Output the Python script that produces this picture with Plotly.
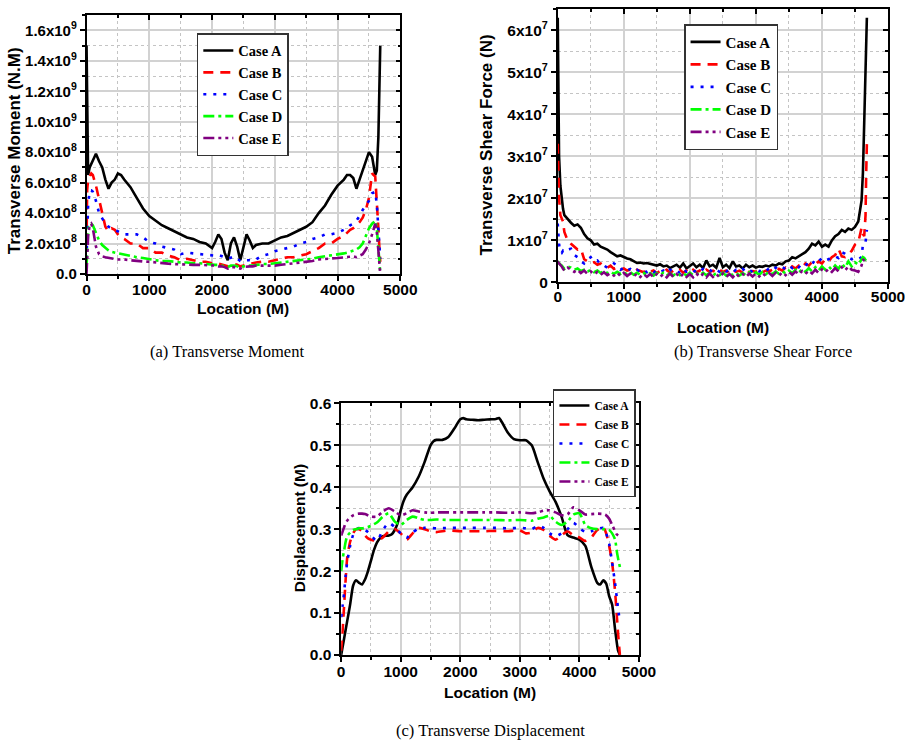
import plotly.graph_objects as go

W, H = 905, 743
# placement helpers: the page is shown slightly reduced with a small offset
SX, SY = 0.9743, 0.979
OX, OY = 4.8, 8

CASES = ["Case A", "Case B", "Case C", "Case D", "Case E"]
COLORS = ["#000000", "#ff0000", "#0000ff", "#00ff00", "#800080"]
DASHES = ["solid", "10px,7px", "3px,7px", "11px,4px,3px,4px", "11px,4px,3px,4px,3px,4px"]

# ---------------- (a) transverse moment, values in 1e8 N.M ----------------
loc_moment = [0, 10, 25, 50, 75, 100, 150, 200, 250, 300, 350, 400, 450, 500, 550, 600,
              700, 800, 900, 1000, 1100, 1200, 1300, 1400, 1500, 1600, 1700, 1800, 1900, 2000,
              2050, 2100, 2150, 2200, 2250, 2300, 2350, 2400, 2450, 2500, 2550, 2600, 2650, 2700,
              2800, 2900, 3000, 3100, 3200, 3300, 3400, 3500, 3600, 3700, 3800, 3900, 4000, 4100,
              4150, 4200, 4250, 4300, 4350, 4400, 4450, 4500, 4550, 4600, 4625, 4650, 4665, 4680]
moment_a = [15.0, 9.0, 6.5, 7.0, 7.2, 7.4, 7.9, 7.4, 7.0, 6.2, 5.6, 6.0, 6.2, 6.6, 6.5, 6.2,
            5.7, 5.0, 4.3, 3.8, 3.5, 3.2, 3.0, 2.8, 2.6, 2.4, 2.3, 2.1, 2.0, 1.7,
            2.1, 2.6, 2.3, 1.4, 0.9, 2.0, 2.4, 1.8, 0.9, 1.7, 2.6, 2.2, 1.7, 1.9,
            2.0, 2.0, 2.2, 2.4, 2.5, 2.7, 2.9, 3.1, 3.4, 4.0, 4.5, 5.2, 5.8, 6.2,
            6.5, 6.5, 6.3, 5.6, 6.2, 6.8, 7.3, 8.0, 7.7, 6.5, 6.8, 9.0, 12.0, 15.0]
moment_b = [2.0, 5.5, 6.2, 6.4, 6.6, 6.5, 5.8, 4.9, 4.0, 3.1, 2.8, 3.0, 2.9, 2.6, 2.4, 2.3,
            2.0, 2.0, 1.7, 1.7, 1.4, 1.4, 1.2, 1.1, 0.9, 1.0, 0.9, 0.8, 0.8, 0.7,
            0.75, 0.7, 0.65, 0.6, 0.5, 0.6, 0.65, 0.6, 0.5, 0.55, 0.65, 0.7, 0.7, 0.75,
            0.8, 0.8, 0.9, 1.0, 1.1, 1.1, 1.2, 1.3, 1.5, 1.7, 2.0, 2.0, 2.3, 2.5,
            2.7, 2.9, 3.0, 3.2, 3.4, 3.7, 4.2, 5.0, 6.6, 6.4, 5.0, 3.0, 1.8, 0.8]
moment_c = [1.0, 3.0, 4.5, 5.5, 5.5, 5.4, 4.8, 4.0, 3.6, 3.3, 3.1, 3.0, 2.9, 2.8, 2.7, 2.6,
            2.6, 2.6, 2.4, 2.1, 2.0, 1.8, 1.7, 1.6, 1.3, 1.4, 1.35, 1.3, 1.25, 1.2,
            1.2, 1.25, 1.2, 1.1, 1.0, 1.1, 1.15, 1.0, 0.85, 0.8, 0.9, 0.9, 0.85, 0.95,
            1.2, 1.3, 1.5, 1.6, 1.7, 1.8, 2.0, 2.1, 2.3, 2.4, 2.6, 2.6, 2.7, 2.9,
            3.0, 3.2, 3.3, 3.5, 3.8, 4.2, 4.5, 4.8, 5.3, 5.4, 4.6, 3.0, 1.8, 1.0]
moment_d = [0.5, 1.8, 2.8, 3.3, 3.3, 3.2, 2.7, 2.2, 1.9, 1.7, 1.55, 1.45, 1.4, 1.35, 1.35, 1.3,
            1.2, 1.1, 1.05, 0.95, 0.9, 0.85, 0.85, 0.8, 0.75, 0.75, 0.7, 0.7, 0.65, 0.6,
            0.6, 0.6, 0.55, 0.55, 0.45, 0.55, 0.55, 0.5, 0.4, 0.5, 0.55, 0.55, 0.55, 0.6,
            0.65, 0.65, 0.7, 0.75, 0.8, 0.85, 0.9, 0.95, 1.0, 1.1, 1.15, 1.2, 1.3, 1.35,
            1.4, 1.45, 1.5, 1.6, 1.75, 2.0, 2.5, 3.0, 3.3, 3.5, 3.0, 1.8, 0.8, 0.1]
moment_e = [0.0, 1.5, 2.5, 3.2, 3.3, 3.0, 1.8, 1.3, 1.15, 1.1, 1.05, 1.0, 1.0, 0.95, 0.95, 0.95,
            0.9, 0.85, 0.82, 0.8, 0.75, 0.7, 0.68, 0.65, 0.62, 0.6, 0.6, 0.6, 0.58, 0.6,
            0.55, 0.5, 0.5, 0.45, 0.35, 0.45, 0.45, 0.4, 0.35, 0.45, 0.5, 0.5, 0.5, 0.55,
            0.55, 0.55, 0.55, 0.6, 0.65, 0.7, 0.75, 0.8, 0.85, 0.95, 1.0, 1.02, 1.05, 1.1,
            1.12, 1.15, 1.15, 1.1, 1.2, 1.3, 1.6, 2.0, 2.6, 3.3, 2.8, 1.2, 0.5, 0.0]

# ---------------- (b) transverse shear force, values in 1e7 N ----------------
loc_shear = [0, 10, 20, 40, 60, 80] + list(range(100, 4601, 50)) + [4620, 4640, 4660, 4670, 4680]
shear_a = [6.3, 4.2, 3.0, 2.3, 1.95, 1.75,
           1.6, 1.5, 1.42, 1.35, 1.38, 1.3, 1.15, 1.05, 1.0, 0.9,
           0.92, 0.85, 0.82, 0.78, 0.72, 0.68, 0.62, 0.64, 0.6, 0.57,
           0.55, 0.5, 0.46, 0.47, 0.45, 0.46, 0.44, 0.42, 0.4, 0.43,
           0.38, 0.4, 0.34, 0.38, 0.42, 0.35, 0.45, 0.33, 0.4, 0.45,
           0.36, 0.42, 0.34, 0.52, 0.38, 0.42, 0.35, 0.58, 0.36, 0.42,
           0.34, 0.5, 0.38, 0.4, 0.33, 0.42, 0.36, 0.4, 0.35, 0.38,
           0.37, 0.4, 0.38, 0.42, 0.4, 0.45, 0.43, 0.5, 0.52, 0.6,
           0.57, 0.62, 0.65, 0.72, 0.8, 0.92, 0.88, 0.97, 0.85, 0.9,
           0.85, 1.0, 1.1, 1.15, 1.25, 1.2, 1.28, 1.25, 1.32, 1.45,
           1.95,
           2.6, 3.8, 5.2, 5.9, 6.3]
shear_b = [3.3, 2.6, 2.0, 1.6, 1.5, 1.45,
           1.2, 1.0, 0.92, 0.85, 0.78, 0.8, 0.55, 0.5, 0.45, 0.48,
           0.42, 0.45, 0.38, 0.35, 0.4, 0.32, 0.36, 0.3, 0.33, 0.28,
           0.3, 0.25, 0.3, 0.27, 0.24, 0.3, 0.25, 0.28, 0.22, 0.27,
           0.24, 0.3, 0.22, 0.28, 0.25, 0.3, 0.23, 0.28, 0.22, 0.3,
           0.24, 0.28, 0.22, 0.3, 0.25, 0.28, 0.23, 0.3, 0.25, 0.28,
           0.22, 0.3, 0.25, 0.28, 0.23, 0.3, 0.24, 0.27, 0.25, 0.3,
           0.24, 0.28, 0.26, 0.3, 0.25, 0.32, 0.28, 0.35, 0.3, 0.38,
           0.33, 0.4, 0.35, 0.45, 0.4, 0.48, 0.42, 0.5, 0.45, 0.55,
           0.5, 0.6, 0.65, 0.8, 0.62, 0.6, 0.68, 0.75, 0.9, 0.95,
           1.3,
           1.15, 1.1, 1.6, 2.6, 3.3]
shear_c = [1.4, 1.1, 0.9, 0.72, 0.7, 0.75,
           0.72, 0.78, 0.8, 0.65, 0.6, 0.5, 0.45, 0.55, 0.6, 0.5,
           0.52, 0.42, 0.4, 0.35, 0.38, 0.45, 0.4, 0.3, 0.35, 0.28,
           0.32, 0.26, 0.3, 0.25, 0.3, 0.24, 0.28, 0.22, 0.3, 0.25,
           0.28, 0.22, 0.3, 0.25, 0.28, 0.22, 0.32, 0.25, 0.28, 0.24,
           0.3, 0.25, 0.32, 0.26, 0.3, 0.24, 0.3, 0.25, 0.32, 0.26,
           0.3, 0.24, 0.3, 0.26, 0.32, 0.25, 0.3, 0.24, 0.3, 0.26,
           0.32, 0.27, 0.33, 0.28, 0.35, 0.3, 0.36, 0.32, 0.4, 0.34,
           0.42, 0.36, 0.45, 0.4, 0.48, 0.42, 0.55, 0.5, 0.58, 0.52,
           0.55, 0.6, 0.62, 0.58, 0.72, 0.68, 0.6, 0.55, 0.58, 0.55,
           0.6,
           0.9, 0.9, 0.95, 1.1, 1.25]
shear_d = [0.5, 0.48, 0.45, 0.42, 0.4, 0.35,
           0.32, 0.38, 0.35, 0.3, 0.33, 0.27, 0.3, 0.25, 0.3, 0.24,
           0.28, 0.22, 0.27, 0.22, 0.26, 0.2, 0.25, 0.2, 0.24, 0.19,
           0.24, 0.18, 0.23, 0.18, 0.22, 0.17, 0.22, 0.16, 0.22, 0.17,
           0.23, 0.16, 0.22, 0.16, 0.23, 0.17, 0.22, 0.16, 0.23, 0.17,
           0.22, 0.16, 0.23, 0.17, 0.22, 0.16, 0.22, 0.17, 0.23, 0.16,
           0.22, 0.17, 0.23, 0.16, 0.22, 0.17, 0.24, 0.18, 0.24, 0.18,
           0.25, 0.19, 0.26, 0.2, 0.26, 0.2, 0.27, 0.21, 0.28, 0.22,
           0.3, 0.23, 0.32, 0.25, 0.34, 0.26, 0.36, 0.28, 0.38, 0.3,
           0.38, 0.3, 0.4, 0.32, 0.45, 0.35, 0.5, 0.38, 0.48, 0.42,
           0.55,
           0.6, 0.58, 0.52, 0.5, 0.48]
shear_e = [0.45, 0.47, 0.45, 0.42, 0.38, 0.32,
           0.28, 0.35, 0.3, 0.25, 0.3, 0.22, 0.28, 0.2, 0.26, 0.19,
           0.25, 0.18, 0.24, 0.17, 0.22, 0.16, 0.23, 0.15, 0.22, 0.15,
           0.21, 0.14, 0.21, 0.13, 0.2, 0.13, 0.2, 0.12, 0.2, 0.13,
           0.2, 0.12, 0.21, 0.13, 0.2, 0.12, 0.21, 0.13, 0.2, 0.12,
           0.21, 0.13, 0.2, 0.12, 0.21, 0.13, 0.2, 0.12, 0.21, 0.13,
           0.2, 0.12, 0.21, 0.13, 0.2, 0.13, 0.21, 0.14, 0.21, 0.14,
           0.22, 0.15, 0.22, 0.15, 0.23, 0.16, 0.24, 0.17, 0.25, 0.18,
           0.26, 0.19, 0.27, 0.2, 0.28, 0.21, 0.3, 0.22, 0.31, 0.24,
           0.32, 0.25, 0.34, 0.26, 0.36, 0.28, 0.38, 0.3, 0.28, 0.25,
           0.4,
           0.55, 0.52, 0.48, 0.45, None]

# ---------------- (c) transverse displacement, values in M ----------------
loc_disp_a = [0, 50, 100, 150, 200, 250, 300, 350, 400, 450, 500, 550, 600, 650, 700,
              800, 850, 900, 950, 1000, 1050, 1100, 1200, 1300, 1400, 1500, 1550, 1600,
              1700, 1800, 1900, 2000, 2050, 2100, 2200, 2300, 2400, 2500, 2600, 2650, 2700,
              2800, 2900, 3000, 3100, 3200, 3300, 3400, 3500, 3600, 3700, 3800, 3900, 4000,
              4100, 4200, 4300, 4350, 4400, 4450, 4500, 4550, 4600, 4650, 4680]
disp_a = [0.0, 0.04, 0.08, 0.12, 0.165, 0.178, 0.172, 0.168, 0.18, 0.2,
          0.225, 0.25, 0.268, 0.278, 0.283, 0.285, 0.288, 0.298, 0.315, 0.345,
          0.368, 0.382, 0.4, 0.425, 0.46, 0.5, 0.51, 0.513, 0.513, 0.52,
          0.54, 0.562, 0.565, 0.562, 0.561, 0.56, 0.561, 0.562, 0.563, 0.565,
          0.555, 0.53, 0.515, 0.512, 0.512, 0.5, 0.46, 0.42, 0.39, 0.365,
          0.33, 0.286, 0.28, 0.275, 0.26, 0.21, 0.172, 0.168, 0.178, 0.17,
          0.14, 0.12, 0.06, 0.01, 0.0]
loc_disp = [0, 25, 50, 75, 100, 150, 200, 250, 300, 350, 400, 450, 500, 600, 700, 800, 900,
            1000, 1100, 1200, 1300, 1400, 1500, 1600, 1800, 2000, 2200, 2400, 2600, 2800, 3000,
            3100, 3200, 3300, 3400, 3500, 3600, 3700, 3800, 3900, 4000, 4100, 4200, 4300, 4400,
            4450, 4500, 4550, 4600, 4625, 4650, 4680]
disp_b = [0.01, 0.06, 0.12, 0.18, 0.23, 0.27, 0.29, 0.3, 0.3, 0.295,
          0.285, 0.278, 0.275, 0.272, 0.28, 0.295, 0.3, 0.29, 0.275, 0.29,
          0.303, 0.3, 0.295, 0.293, 0.297, 0.295, 0.295, 0.295, 0.296, 0.295,
          0.297, 0.29, 0.292, 0.303, 0.298, 0.285, 0.275, 0.285, 0.295, 0.285,
          0.28, 0.272, 0.28, 0.298, 0.305, 0.29, 0.26, 0.22, 0.15, 0.1,
          0.05, 0.0]
disp_c = [0.09, 0.12, 0.15, 0.19, 0.22, 0.26, 0.286, 0.298, 0.303, 0.302,
          0.298, 0.293, 0.285, 0.272, 0.298, 0.315, 0.305, 0.29, 0.28, 0.292,
          0.302, 0.303, 0.303, 0.302, 0.303, 0.303, 0.303, 0.303, 0.303, 0.302,
          0.303, 0.302, 0.3, 0.308, 0.303, 0.29, 0.283, 0.29, 0.3, 0.315,
          0.303, 0.293, 0.295, 0.3, 0.303, 0.29, 0.265, 0.22, 0.17, 0.14,
          0.11, 0.08]
disp_d = [0.2, 0.23, 0.25, 0.27, 0.283, 0.292, 0.298, 0.3, 0.302, 0.302,
          0.303, 0.305, 0.308, 0.316, 0.33, 0.338, 0.318, 0.31, 0.322, 0.33,
          0.326, 0.322, 0.322, 0.323, 0.322, 0.322, 0.322, 0.322, 0.322, 0.321,
          0.322, 0.321, 0.32, 0.325, 0.328, 0.332, 0.318, 0.31, 0.318, 0.335,
          0.338, 0.31, 0.302, 0.3, 0.3, 0.3, 0.298, 0.29, 0.275, 0.25,
          0.23, 0.21]
disp_e = [0.285, 0.295, 0.305, 0.315, 0.32, 0.328, 0.333, 0.336, 0.337, 0.337,
          0.336, 0.333, 0.33, 0.33, 0.342, 0.35, 0.342, 0.333, 0.338, 0.345,
          0.342, 0.34, 0.339, 0.34, 0.34, 0.34, 0.34, 0.34, 0.34, 0.339,
          0.34, 0.339, 0.338, 0.34, 0.344, 0.345, 0.34, 0.333, 0.335, 0.352,
          0.345, 0.335, 0.336, 0.337, 0.336, 0.333, 0.325, 0.31, 0.295, 0.288,
          0.285, None]

moment_ticks = [0, 2e8, 4e8, 6e8, 8e8, 1e9, 1.2e9, 1.4e9, 1.6e9]
moment_labels = ["0.0", "2.0x10<sup>8</sup>", "4.0x10<sup>8</sup>", "6.0x10<sup>8</sup>",
                 "8.0x10<sup>8</sup>", "1.0x10<sup>9</sup>", "1.2x10<sup>9</sup>",
                 "1.4x10<sup>9</sup>", "1.6x10<sup>9</sup>"]
shear_ticks = [0, 1e7, 2e7, 3e7, 4e7, 5e7, 6e7]
shear_labels = ["0", "1x10<sup>7</sup>", "2x10<sup>7</sup>", "3x10<sup>7</sup>",
                "4x10<sup>7</sup>", "5x10<sup>7</sup>", "6x10<sup>7</sup>"]
disp_ticks = [0.0, 0.1, 0.2, 0.3, 0.4, 0.5, 0.6]
disp_labels = ["0.0", "0.1", "0.2", "0.3", "0.4", "0.5", "0.6"]
loc_ticks = [0, 1000, 2000, 3000, 4000, 5000]
loc_labels = ["0", "1000", "2000", "3000", "4000", "5000"]


def px_x(p):
    """on-screen column -> paper fraction"""
    return min(1.0, max(0.0, (p / SX - OX) / W))


def px_y(p):
    """on-screen row -> paper fraction"""
    return min(1.0, max(0.0, 1 - (p / SY - OY) / H))


SANS = "Liberation Sans, Arial, sans-serif"
SERIF = "Liberation Serif, Times New Roman, serif"
GRID = "#d2d2d2"
MINOR_GRID = "#c4c4c4"

fig = go.Figure()

panels = [
    dict(ax="", ov="4", legend="legend", xd=(87, 400), yd=(14, 273.3), yr=[0, 1.7e9],
         tv=moment_ticks, tt=moment_labels, ym=1e8, xstand=-4, ysize=15,
         x=loc_moment, ys=[moment_a, moment_b, moment_c, moment_d, moment_e], scale=1e8,
         shape="linear"),
    dict(ax="2", ov="5", legend="legend2", xd=(557, 892), yd=(7.8, 281.7), yr=[0, 6.51e7],
         tv=shear_ticks, tt=shear_labels, ym=5e6, xstand=-6, ysize=15.5,
         x=loc_shear, ys=[shear_a, shear_b, shear_c, shear_d, shear_e], scale=1e7,
         shape="linear"),
    dict(ax="3", ov="6", legend="legend3", xd=(341, 638), yd=(403, 655), yr=[0, 0.6],
         tv=disp_ticks, tt=disp_labels, ym=0.05, xstand=-3, ysize=15.5,
         x=[loc_disp_a] + [loc_disp] * 4, ys=[disp_a, disp_b, disp_c, disp_d, disp_e],
         scale=1.0, shape="spline"),
]

layout = dict(width=W, height=H, margin=dict(l=0, r=0, t=0, b=0),
              paper_bgcolor="white", plot_bgcolor="white", showlegend=True)

for pi, p in enumerate(panels):
    xa = "xaxis" + p["ax"]
    ya = "yaxis" + p["ax"]
    xo = "xaxis" + p["ov"]
    yo = "yaxis" + p["ov"]
    xref = "x" + p["ax"]
    yref = "y" + p["ax"]
    xdom = [px_x(p["xd"][0]), px_x(p["xd"][1])]
    ydom = [px_y(p["yd"][1]), px_y(p["yd"][0])]
    xfont = dict(family=SANS, size=15.5, color="black", weight="bold")
    yfont = dict(family=SANS, size=p["ysize"], color="black", weight="bold")

    layout[xa] = dict(domain=xdom, anchor=yref, range=[0, 5000], tickvals=loc_ticks,
                      ticktext=loc_labels, tickfont=xfont, ticks="outside", ticklen=5,
                      tickwidth=1.5, tickcolor="black", showline=True, linecolor="black",
                      linewidth=1.5, mirror=False, zeroline=False, showgrid=True,
                      gridcolor=GRID, gridwidth=1.5, fixedrange=True,
                      ticklabelstandoff=p["xstand"], ticklabeloverflow="allow",
                      minor=dict(dtick=500, tick0=0, ticks="outside", ticklen=3,
                                 tickcolor="black", showgrid=True, gridcolor=MINOR_GRID,
                                 griddash="dot", gridwidth=1))
    layout[ya] = dict(domain=ydom, anchor=xref, range=p["yr"], tickvals=p["tv"],
                      ticktext=p["tt"], tickfont=yfont, ticks="outside", ticklen=5,
                      tickwidth=1.5, tickcolor="black", showline=True, linecolor="black",
                      linewidth=1.5, mirror=False, zeroline=False, showgrid=True,
                      gridcolor=GRID, gridwidth=1.5, fixedrange=True,
                      ticklabeloverflow="allow",
                      minor=dict(dtick=p["ym"], tick0=0, ticks="outside", ticklen=3,
                                 tickcolor="black", showgrid=True, gridcolor=MINOR_GRID,
                                 griddash="dot", gridwidth=1))
    # top and right frame with inward ticks
    layout[xo] = dict(overlaying=xref, anchor=yref, side="top", range=[0, 5000],
                      tickvals=loc_ticks, showticklabels=False, ticks="inside", ticklen=5,
                      tickwidth=1.5, tickcolor="black", showline=True, linecolor="black",
                      linewidth=1.5, showgrid=False, zeroline=False, fixedrange=True,
                      minor=dict(dtick=500, tick0=0, ticks="inside", ticklen=3,
                                 tickcolor="black", showgrid=False))
    layout[yo] = dict(overlaying=yref, anchor=xref, side="right", range=p["yr"],
                      tickvals=p["tv"], showticklabels=False, ticks="inside", ticklen=5,
                      tickwidth=1.5, tickcolor="black", showline=True, linecolor="black",
                      linewidth=1.5, showgrid=False, zeroline=False, fixedrange=True,
                      minor=dict(dtick=p["ym"], tick0=0, ticks="inside", ticklen=3,
                                 tickcolor="black", showgrid=False))
    fig.add_trace(go.Scatter(x=[], y=[], xaxis="x" + p["ov"], yaxis="y" + p["ov"],
                             showlegend=False, hoverinfo="skip"))

    xs = p["x"]
    for ci, name in enumerate(CASES):
        xv = xs[ci] if isinstance(xs[0], list) else xs
        yv = [None if v is None else v * p["scale"] for v in p["ys"][ci]]
        fig.add_trace(go.Scatter(
            x=xv, y=yv, mode="lines", name=name, xaxis=xref, yaxis=yref,
            legend=p["legend"],
            line=dict(color=COLORS[ci], width=2.6, dash=DASHES[ci], shape=p["shape"],
                      smoothing=0.6),
            connectgaps=False))

leg_common = dict(bgcolor="white", bordercolor="#333333", borderwidth=1.5,
                  itemwidth=30, xanchor="left", yanchor="top", itemclick=False,
                  itemdoubleclick=False)
layout["legend"] = dict(leg_common, x=px_x(197), y=px_y(32),
                        font=dict(family=SERIF, size=14.5, color="black", weight="bold"))
layout["legend2"] = dict(leg_common, x=px_x(683), y=px_y(23),
                         font=dict(family=SERIF, size=15, color="black", weight="bold"))
layout["legend3"] = dict(leg_common, x=px_x(635), y=px_y(389), xanchor="right",
                         font=dict(family=SERIF, size=11.5, color="black", weight="bold"))

title_font = dict(family=SANS, size=15.5, color="black", weight="bold")
ytitle_font = dict(family=SANS, size=17, color="black", weight="bold")
cap_font = dict(family=SERIF, size=16.5, color="black")


def note(text, x, y, font, angle=0):
    return dict(text=text, x=px_x(x), y=px_y(y), xref="paper", yref="paper",
                showarrow=False, font=font, textangle=angle,
                xanchor="center", yanchor="middle")


layout["annotations"] = [
    note("Location (M)", 243, 308, title_font),
    note("Location (M)", 722, 327, title_font),
    note("Location (M)", 489, 693, title_font),
    note("Transverse Moment (N.M)", 16, 150, ytitle_font, -90),
    note("Transverse Shear Force (N)", 486, 144, ytitle_font, -90),
    note("Displacement (M)", 299, 528, dict(ytitle_font, size=15.5), -90),
    note("(a) Transverse Moment", 227, 351, cap_font),
    note("(b) Transverse Shear Force", 762, 351, cap_font),
    note("(c) Transverse Displacement", 490, 731, cap_font),
]

fig.update_layout(**layout)
fig.write_html("out.html")
